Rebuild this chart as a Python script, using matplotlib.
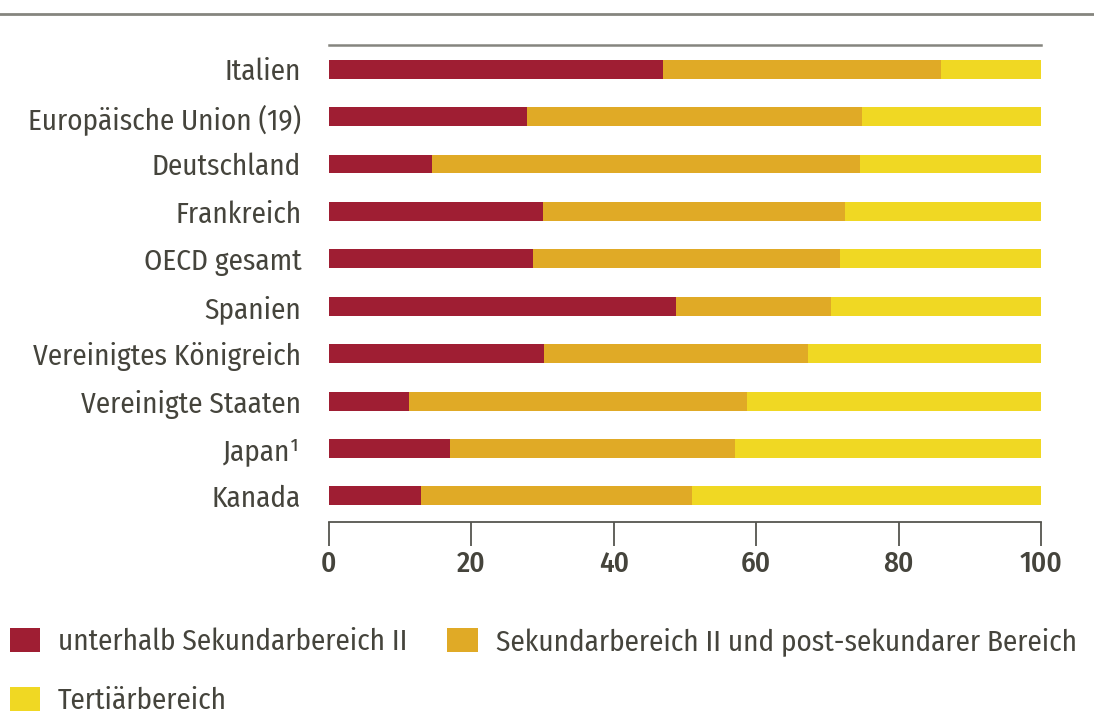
import matplotlib
matplotlib.use("Agg")
import matplotlib.pyplot as plt
from matplotlib.patches import Patch
import numpy as np

laender = ["Italien", "Europäische Union (19)", "Deutschland", "Frankreich",
           "OECD gesamt", "Spanien", "Vereinigtes Königreich",
           "Vereinigte Staaten", "Japan¹", "Kanada"]
unter_sek2 = [46.9, 27.8, 14.5, 30.1, 28.7, 48.7, 30.2, 11.2, 17.0, 12.9]
sek2_post = [39.1, 47.1, 60.1, 42.4, 43.1, 21.8, 37.1, 47.5, 40.0, 38.1]
tertiaer = [14.0, 25.1, 25.4, 27.5, 28.2, 29.5, 32.7, 41.3, 43.0, 49.0]
serien = ["unterhalb Sekundarbereich II",
          "Sekundarbereich II und post-sekundarer Bereich",
          "Tertiärbereich"]
x_ticks = [0, 20, 40, 60, 80, 100]

farben = ["#9f1e33", "#e0aa26", "#f0d823"]
txt = "#45443c"
grau = "#85857f"

plt.rcParams["font.family"] = ["Fira Sans Condensed", "DejaVu Sans"]

fig = plt.figure(figsize=(10.94, 7.13), dpi=100)
ax = fig.add_axes([329 / 1094, 1 - 522 / 713, 712 / 1094, 477 / 713])

y = np.arange(len(laender))
links = np.zeros(len(laender))
for werte, farbe in zip([unter_sek2, sek2_post, tertiaer], farben):
    ax.barh(y, werte, left=links, height=0.4, color=farbe, edgecolor="none")
    links += np.array(werte)

ax.set_xlim(0, 100)
ax.set_ylim(len(laender) - 1 + 0.55, -0.51)
ax.set_yticks(y)
ax.set_yticklabels(laender, fontsize=21, color=txt)
ax.tick_params(axis="y", length=0, pad=20)
ax.set_xticks(x_ticks)
ax.set_xticklabels([str(v) for v in x_ticks], fontsize=21, color=txt,
                   fontweight="medium")
ax.tick_params(axis="x", length=17, width=1.3, color="#55554f", pad=3)

for s in ["left", "right"]:
    ax.spines[s].set_visible(False)
ax.spines["top"].set_color(grau)
ax.spines["top"].set_linewidth(1.8)
ax.spines["bottom"].set_color("#55554f")
ax.spines["bottom"].set_linewidth(1.3)

# Linie oben über die ganze Breite
fig.add_artist(plt.Line2D([0, 1], [1 - 14 / 713, 1 - 14 / 713],
                          color=grau, linewidth=2, transform=fig.transFigure))

handles = [Patch(facecolor=farben[0], label=serien[0]),
           Patch(facecolor=farben[2], label=serien[2]),
           Patch(facecolor=farben[1], label=serien[1])]
leg = fig.legend(handles=handles, ncol=2, loc="upper left",
                 bbox_to_anchor=(10 / 1094, 1 - 627 / 713), frameon=False,
                 fontsize=21, handlelength=1.03, handleheight=0.86,
                 handletextpad=0.62, columnspacing=1.37, labelspacing=1.05,
                 borderaxespad=0, borderpad=0)
for t in leg.get_texts():
    t.set_color(txt)

fig.savefig("out.png", dpi=100)
